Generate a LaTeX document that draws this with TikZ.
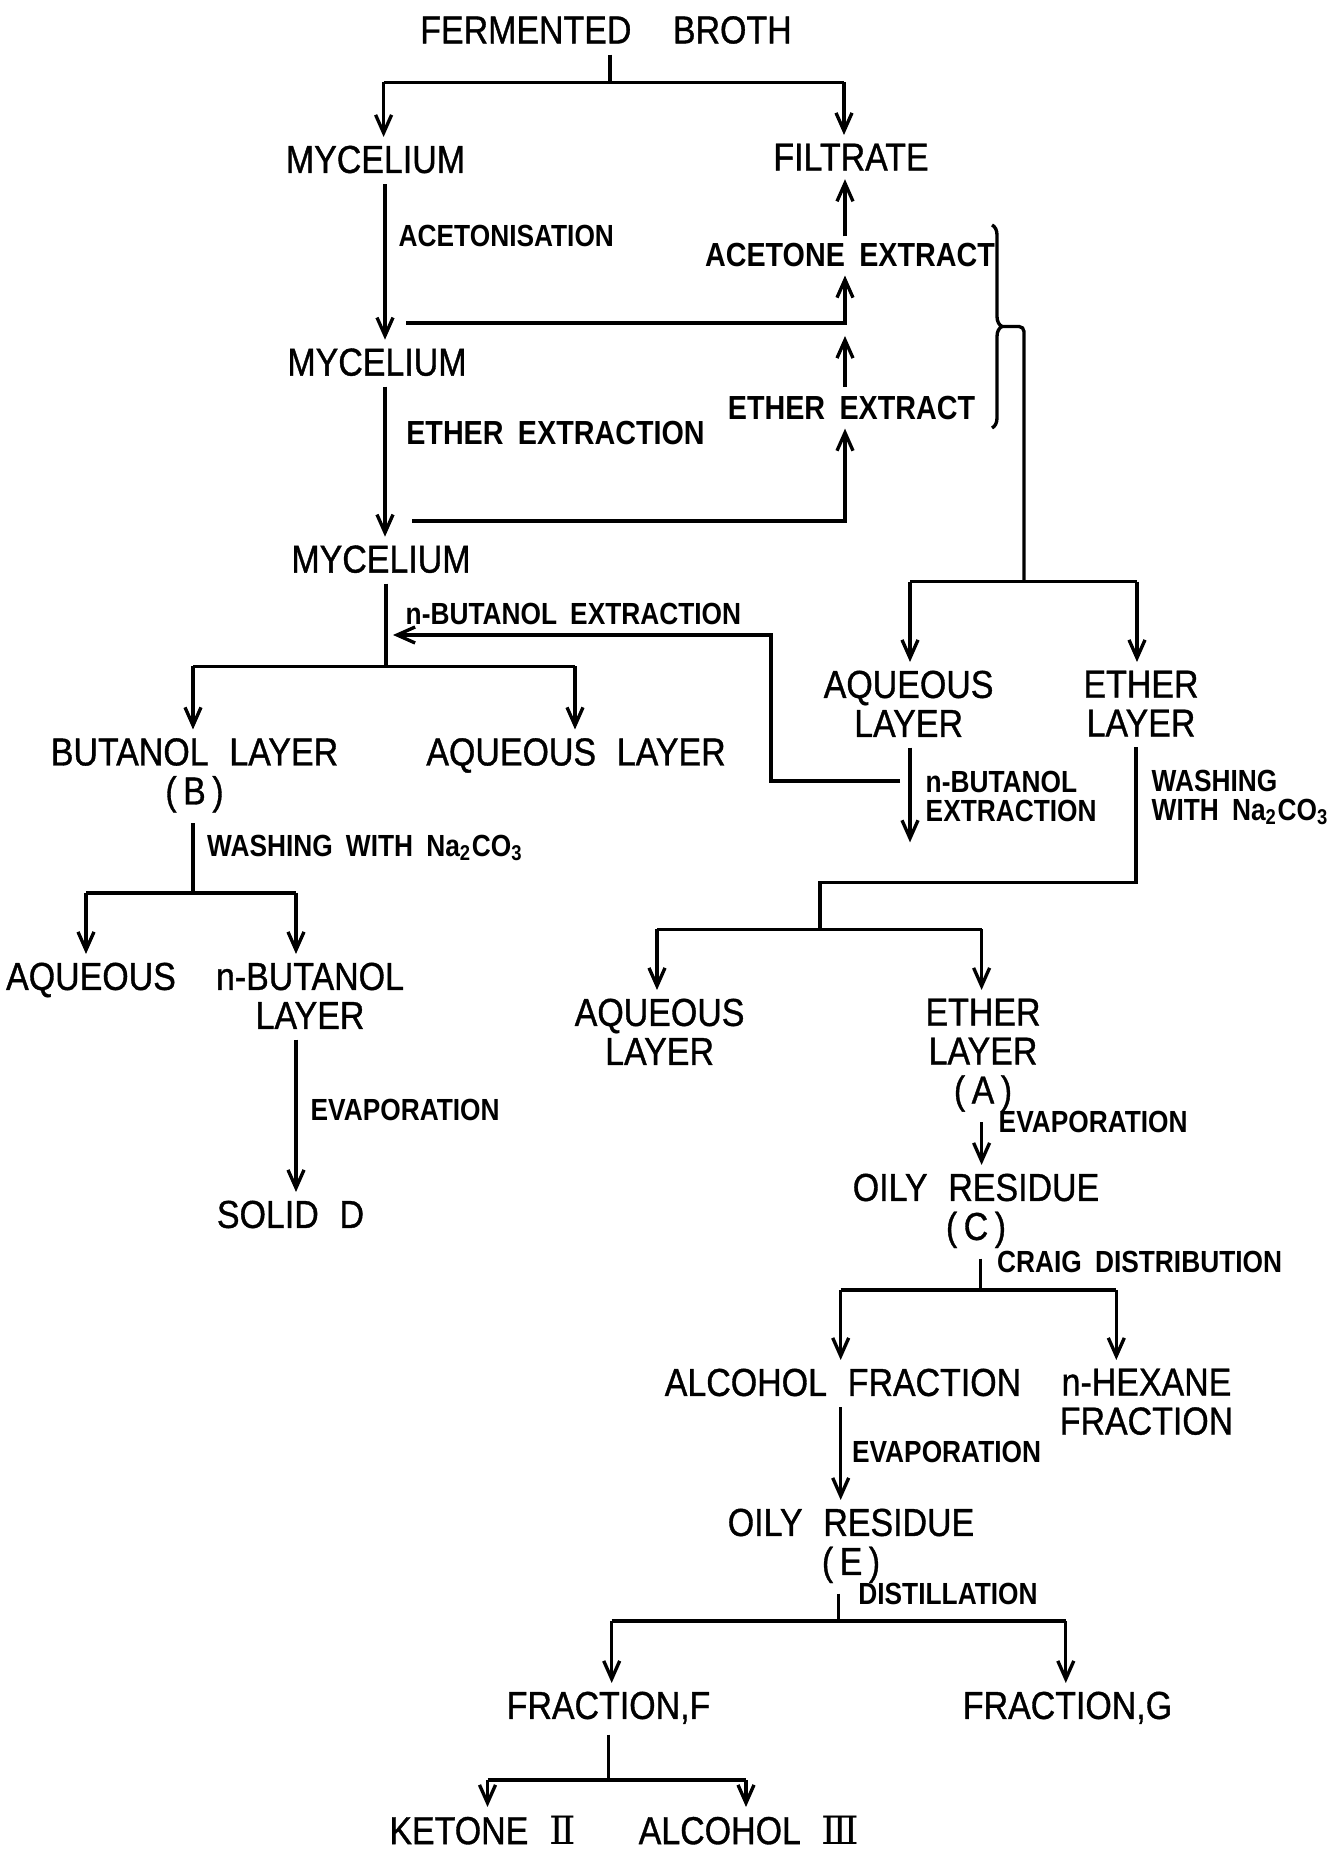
\documentclass[tikz,border=0pt]{standalone}
\usepackage{fontspec}
\setmainfont{Liberation Sans}[FakeStretch=0.87,WordSpace=2.2,FakeBold=0.9]
\newfontfamily\notefont{Liberation Sans}[FakeStretch=0.86,WordSpace=1.8]
\newfontfamily\romanfont{DejaVu Serif}
\usetikzlibrary{arrows.meta,decorations.pathreplacing}

\tikzset{
  stage/.style={anchor=north, inner sep=0pt, align=center, font=\fontsize{11.1}{11.1}\selectfont},
  extract/.style={anchor=north, inner sep=0pt, font=\notefont\bfseries\fontsize{9.5}{9.5}\selectfont},
  process/.style={anchor=north west, inner sep=0pt, align=left, font=\notefont\bfseries\fontsize{8.7}{8.5}\selectfont},
  link/.style={line width=0.95pt},
  flow/.style={link, -{Straight Barb[length=1.8mm,width=1.6mm]}, shorten >=0.08cm},
  gap/.style={shorten <=0.1cm},
}

\begin{document}
\begin{tikzpicture}
		%%%%% START %%%%%
		\useasboundingbox (0,0) rectangle (13.39,18.5);
		
		% broth, mycelium and the extracts
		\node[stage] (broth) at (6.06,18.345) {FERMENTED\ \ BROTH};
		\node[stage] (myc1) at (3.755,17.05) {MYCELIUM};
		\node[stage] (filtrate) at (8.51,17.07) {FILTRATE};
		\node[stage] (myc2) at (3.77,15.023) {MYCELIUM};
		\node[stage] (myc3) at (3.81,13.053) {MYCELIUM};
		\node[extract] (acetone) at (8.50,16.075) {ACETONE EXTRACT};
		\node[extract] (etherex) at (8.515,14.544) {ETHER EXTRACT};
		\node[process] (acetonisation) at (3.98,16.26) {ACETONISATION};
		\node[extract, anchor=north west] (etherextraction) at (4.056,14.295) {ETHER EXTRACTION};
		
		\coordinate (s1) at (6.10,17.675);
		\coordinate (s1l) at (3.836,17.675);
		\coordinate (s1r) at (8.44,17.675);
		\coordinate (trunk) at (3.85,15);
		\coordinate (col) at (8.45,15);
		\draw[link, gap] (broth.south -| s1) -- (s1);
		\draw[link] (s1l) -- (s1r);
		\draw[flow] (s1l) -- (s1l |- myc1.north);
		\draw[flow] (s1r) -- (s1r |- filtrate.north);
		
		\draw[flow, gap] (myc1.south -| trunk) -- (myc2.north -| trunk);
		\draw[flow, gap] (myc2.south -| trunk) -- (myc3.north -| trunk);
		
		\coordinate (ac1) at (4.06,15.27);
		\draw[flow] (ac1) -| (acetone.south -| col);
		\draw[flow, shorten <=0.06cm] (acetone.north -| col) -- (filtrate.south -| col);
		\coordinate (ee1) at (4.12,13.29);
		\draw[flow] (ee1) -| (etherex.south -| col);
		\draw[flow, shorten <=0.09cm, shorten >=0.13cm] (etherex.north -| col) -- (ac1 -| col);
		
		% both extracts pooled
		\draw[link, decorate, decoration={brace, amplitude=0.1cm}] (9.92,16.25) -- (9.92,14.22);
		\coordinate (bt) at (10.02,15.235);
		\coordinate (s3) at (10.24,12.684);
		\draw[link, rounded corners=0.05cm] (bt) -| (s3);
		
		\node[stage] (aqR) at (9.086,11.80) {AQUEOUS\\LAYER};
		\node[stage] (etherR) at (11.41,11.80) {ETHER\\LAYER};
		\coordinate (s3l) at (9.10,12.684);
		\coordinate (s3r) at (11.37,12.684);
		\draw[link] (s3l) -- (s3r);
		\draw[flow] (s3l) -- (s3l |- aqR.north);
		\draw[flow] (s3r) -- (s3r |- etherR.north);
		
		\coordinate (aqout) at (9.10,10.076);
		\draw[flow, gap, shorten >=0pt] (aqR.south -| aqout) -- (aqout);
		\node[process] (nbx) at (9.25,10.80) {n-BUTANOL\\EXTRACTION};
		
		% butanol back to the mycelium
		\coordinate (fb) at (9.0,10.69);
		\coordinate (fbup) at (7.71,10.69);
		\coordinate (fbin) at (3.93,12.15);
		\draw[flow, shorten >=0pt] (fb) -- (fbup) |- (fbin);
		\node[process] (nbx2) at (4.05,12.48) {n-BUTANOL EXTRACTION};
		
		\coordinate (s2) at (3.86,11.835);
		\coordinate (s2l) at (1.93,11.835);
		\coordinate (s2r) at (5.75,11.835);
		\draw[link, gap] (myc3.south -| s2) -- (s2);
		\draw[link] (s2l) -- (s2r);
		\node[stage] (butanol) at (1.945,11.125) {BUTANOL LAYER\\(\,B\,)};
		\node[stage] (aqL) at (5.76,11.125) {AQUEOUS LAYER};
		\draw[flow] (s2l) -- (s2l |- butanol.north);
		\draw[flow] (s2r) -- (s2r |- aqL.north);
		
		\coordinate (s8) at (1.93,9.57);
		\coordinate (s8l) at (0.86,9.57);
		\coordinate (s8r) at (2.96,9.57);
		\draw[link, gap] (butanol.south -| s8) -- (s8);
		\draw[link] (s8l) -- (s8r);
		\node[process] (wash1) at (2.065,10.16) {WASHING WITH Na\textsubscript{2}CO\textsubscript{3}};
		\node[stage] (aqueous) at (0.91,8.88) {AQUEOUS};
		\node[stage] (nbut) at (3.10,8.88) {n-BUTANOL\\LAYER};
		\draw[flow] (s8l) -- (s8l |- aqueous.north);
		\draw[flow] (s8r) -- (s8r |- nbut.north);
		\node[stage] (solid) at (2.905,6.50) {SOLID D};
		\draw[flow, gap] (nbut.south -| s8r) -- (solid.north -| s8r);
		\node[process] (evap1) at (3.10,7.52) {EVAPORATION};
		
		% ether layer worked up
		\coordinate (e1) at (11.36,9.675);
		\coordinate (s4) at (8.20,9.206);
		\draw[link, gap] (etherR.south -| e1) -- (e1) -| (s4);
		\node[process] (wash2) at (11.51,10.81) {WASHING\\WITH Na\textsubscript{2}CO\textsubscript{3}};
		\coordinate (s4l) at (6.57,9.206);
		\coordinate (s4r) at (9.816,9.206);
		\draw[link] (s4l) -- (s4r);
		\node[stage] (aqM) at (6.596,8.52) {AQUEOUS\\LAYER};
		\node[stage] (etherA) at (9.83,8.52) {ETHER\\LAYER\\(\,A\,)};
		\draw[flow] (s4l) -- (s4l |- aqM.north);
		\draw[flow] (s4r) -- (s4r |- etherA.north);
		
		\node[stage] (oilyC) at (9.76,6.77) {OILY RESIDUE\\(\,C\,)};
		\draw[flow, gap] (etherA.south -| s4r) -- (oilyC.north -| s4r);
		\node[process] (evap2) at (9.98,7.395) {EVAPORATION};
		
		\coordinate (s5) at (9.807,5.6);
		\coordinate (s5l) at (8.407,5.6);
		\coordinate (s5r) at (11.163,5.6);
		\draw[link, gap] (oilyC.south -| s5) -- (s5);
		\draw[link] (s5l) -- (s5r);
		\node[process] (craig) at (9.965,5.995) {CRAIG DISTRIBUTION};
		\node[stage] (alcfrac) at (8.43,4.82) {ALCOHOL FRACTION};
		\node[stage] (hexane) at (11.465,4.82) {n-HEXANE\\FRACTION};
		\draw[flow] (s5l) -- (s5l |- alcfrac.north);
		\draw[flow] (s5r) -- (s5r |- hexane.north);
		
		\node[stage] (oilyE) at (8.51,3.42) {OILY RESIDUE\\(\,E\,)};
		\draw[flow, gap] (alcfrac.south -| s5l) -- (oilyE.north -| s5l);
		\node[process] (evap3) at (8.514,4.10) {EVAPORATION};
		
		\coordinate (s6) at (8.388,2.29);
		\coordinate (s6l) at (6.117,2.29);
		\coordinate (s6r) at (10.658,2.29);
		\draw[link, gap] (oilyE.south -| s6) -- (s6);
		\draw[link] (s6l) -- (s6r);
		\node[process] (distil) at (8.577,2.673) {DISTILLATION};
		\node[stage] (fracF) at (6.085,1.59) {FRACTION,F};
		\node[stage] (fracG) at (10.675,1.59) {FRACTION,G};
		\draw[flow] (s6l) -- (s6l |- fracF.north);
		\draw[flow] (s6r) -- (s6r |- fracG.north);
		
		\coordinate (s7) at (6.086,0.70);
		\coordinate (s7l) at (4.875,0.70);
		\coordinate (s7r) at (7.46,0.70);
		\draw[link, gap] (fracF.south -| s7) -- (s7);
		\draw[link] (s7l) -- (s7r);
		\node[stage] (ketone) at (4.825,0.35) {KETONE {\romanfont Ⅱ}};
		\node[stage] (alcohol) at (7.49,0.35) {ALCOHOL {\romanfont Ⅲ}};
		\draw[flow] (s7l) -- (s7l |- ketone.north);
		\draw[flow] (s7r) -- (s7r |- alcohol.north);
		
		%%%%% END %%%%%
	\end{tikzpicture}
\end{document}
